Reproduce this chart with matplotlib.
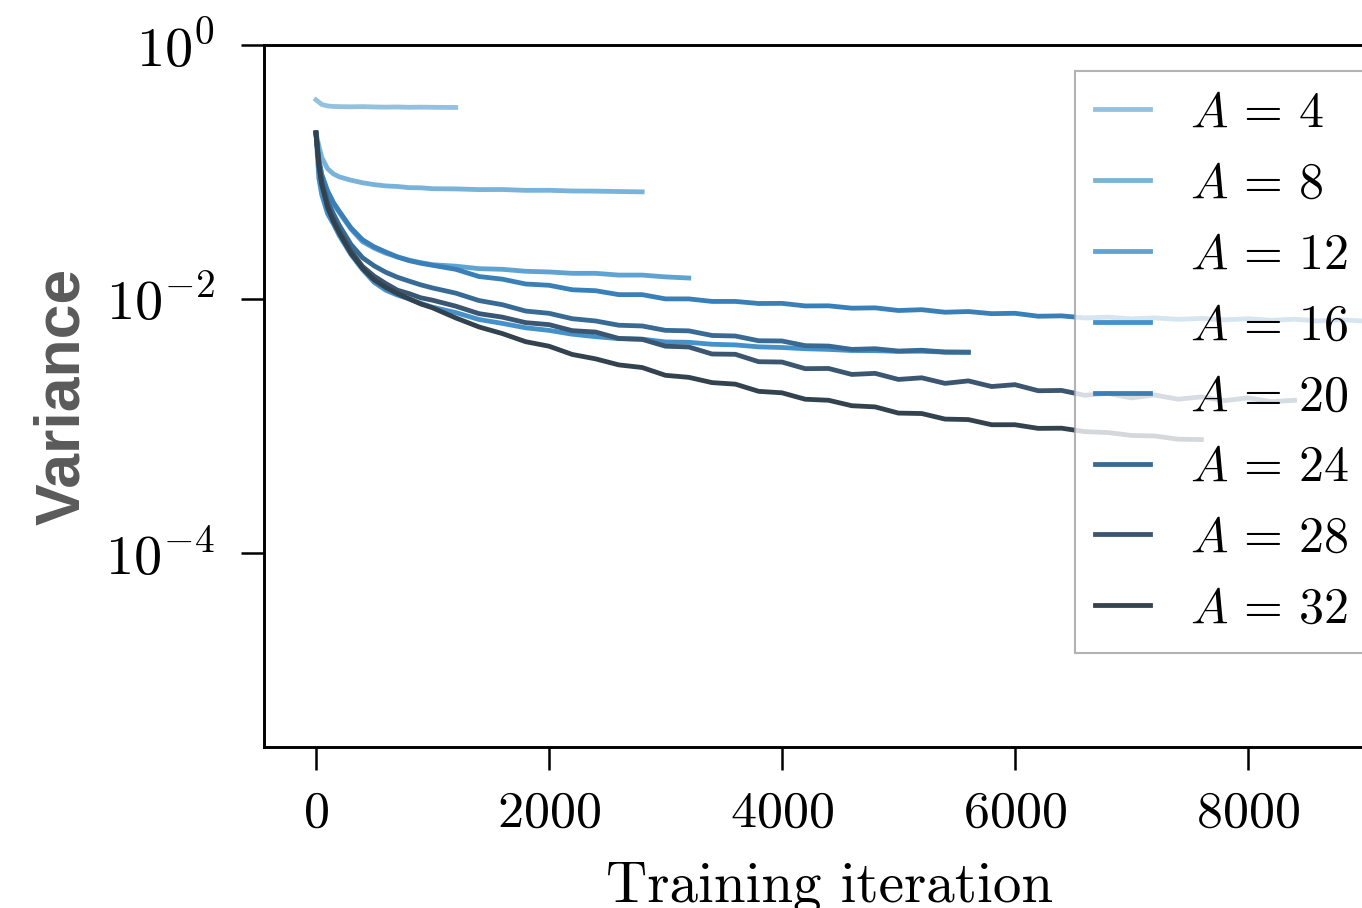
import matplotlib
matplotlib.use("Agg")
import matplotlib.pyplot as plt
from matplotlib.ticker import NullLocator

plt.rcParams.update({
    "font.family": "serif",
    "font.serif": ["cmr10"],
    "mathtext.fontset": "cm",
    "axes.formatter.use_mathtext": True,
    "font.size": 12,
})

# training iterations at which variance was logged
iters = [0, 25, 50, 100, 150, 200, 300, 400, 500, 600, 700, 800, 900, 1000] + list(range(1200, 9001, 200))

a_values = [4, 8, 12, 16, 20, 24, 28, 32]

var_a4 = [0.370, 0.355, 0.340, 0.331, 0.328, 0.327, 0.326, 0.327, 0.325, 0.324,
          0.325, 0.323, 0.324, 0.323, 0.322]

var_a8 = [0.203, 0.160, 0.130, 0.106, 0.0965, 0.0915, 0.0861, 0.0822, 0.0794, 0.0776,
          0.0768, 0.0752, 0.0750, 0.0738, 0.0735, 0.0726, 0.0727, 0.0716, 0.0717, 0.0708,
          0.0706, 0.0701, 0.0697]

var_a12 = [0.203, 0.123, 0.0933, 0.0692, 0.0562, 0.0479, 0.0355, 0.0282, 0.0251, 0.0229,
           0.0214, 0.0202, 0.0193, 0.0186, 0.0181, 0.0173, 0.0171, 0.0165, 0.0163, 0.0159,
           0.0159, 0.0154, 0.0154, 0.0149, 0.0146]

var_a16 = [0.203, 0.0891, 0.0661, 0.0468, 0.0389, 0.0316, 0.0224, 0.0170, 0.0135, 0.0117,
           0.0107, 0.0100, 0.00923, 0.00861, 0.00780, 0.00688, 0.00641, 0.00592, 0.00565, 0.00527,
           0.00504, 0.00486, 0.00482, 0.00458, 0.00455, 0.00439, 0.00434, 0.00419, 0.00414, 0.00405,
           0.00400, 0.00392, 0.00391, 0.00386, 0.00387, 0.00381, 0.00380]

var_a20 = [0.203, 0.126, 0.0955, 0.0708, 0.0575, 0.0490, 0.0363, 0.0292, 0.0257, 0.0234,
           0.0214, 0.0200, 0.0191, 0.0184, 0.0171, 0.0150, 0.0143, 0.0131, 0.0128, 0.0118,
           0.0116, 0.0108, 0.0108, 0.0100, 0.0100, 0.00955, 0.00955, 0.00920, 0.00922, 0.00880,
           0.00882, 0.00845, 0.00850, 0.00810, 0.00822, 0.00785, 0.00795, 0.00765, 0.00770, 0.00730,
           0.00735, 0.00708, 0.00718, 0.00696, 0.00708, 0.00690, 0.00702, 0.00684, 0.00698, 0.00678,
           0.00692, 0.00670, 0.00684, 0.00670]

var_a24 = [0.203, 0.117, 0.0851, 0.0589, 0.0468, 0.0380, 0.0269, 0.0211, 0.0182, 0.0162,
           0.0148, 0.0138, 0.0129, 0.0122, 0.0111, 0.00970, 0.00900, 0.00802, 0.00770, 0.00698,
           0.00670, 0.00620, 0.00612, 0.00565, 0.00560, 0.00515, 0.00510, 0.00468, 0.00466, 0.00428,
           0.00425, 0.00400, 0.00405, 0.00388, 0.00394, 0.00381, 0.00380]

var_a28 = [0.203, 0.115, 0.0813, 0.0550, 0.0427, 0.0347, 0.0240, 0.0180, 0.0151, 0.0132,
           0.0117, 0.0110, 0.0102, 0.00977, 0.00876, 0.00765, 0.00718, 0.00650, 0.00627, 0.00562,
           0.00548, 0.00488, 0.00480, 0.00424, 0.00418, 0.00368, 0.00366, 0.00320, 0.00318, 0.00282,
           0.00283, 0.00254, 0.00259, 0.00232, 0.00239, 0.00216, 0.00226, 0.00204, 0.00211, 0.00189,
           0.00190, 0.00174, 0.00180, 0.00166, 0.00175, 0.00162, 0.00169, 0.00158, 0.00166, 0.00155,
           0.00159]

var_a32 = [0.203, 0.112, 0.0794, 0.0525, 0.0407, 0.0331, 0.0229, 0.0174, 0.0141, 0.0123,
           0.0110, 0.0100, 0.00912, 0.00851, 0.00708, 0.00601, 0.00533, 0.00460, 0.00424, 0.00365,
           0.00337, 0.00302, 0.00288, 0.00250, 0.00241, 0.00219, 0.00213, 0.00187, 0.00182, 0.00162,
           0.00159, 0.00144, 0.00141, 0.00126, 0.00125, 0.00113, 0.00112, 0.00102, 0.00102, 0.000955,
           0.000958, 0.000900, 0.000885, 0.000840, 0.000832, 0.000785, 0.000779]

series = [var_a4, var_a8, var_a12, var_a16, var_a20, var_a24, var_a28, var_a32]
colors = ["#94c1e0", "#7ab3da", "#5fa3d3", "#4592cb", "#3a80b8", "#376b96", "#3a5670", "#33424f"]

fig = plt.figure(figsize=(4.54, 908 / 300), dpi=300)
ax = fig.add_axes([264 / 1362, 1 - 747 / 908, (1396 - 264) / 1362, (747 - 45) / 908])

for a, vals, col in zip(a_values, series, colors):
    ax.plot(iters[:len(vals)], vals, color=col, lw=1.15, label=rf"$A \,=\, {a}$")

ax.set_yscale("log")
ax.set_ylim(10 ** -5.53, 1)
ax.set_yticks([1, 1e-2, 1e-4])
ax.yaxis.set_minor_locator(NullLocator())
ax.set_xlim(-446, 9271)
ax.set_xticks([0, 2000, 4000, 6000, 8000])

ax.tick_params(axis="both", which="major", length=5.5, width=0.6)
ax.tick_params(axis="x", labelsize=12.5, pad=5)
ax.tick_params(axis="y", labelsize=13.5, pad=6.2)
for sp in ax.spines.values():
    sp.set_linewidth(0.7)

ax.set_xlabel("Training iteration", fontsize=13.7, labelpad=6)
ax.set_ylabel("Variance", fontsize=15, fontweight="bold", color="#5a5a5a",
              family="Liberation Sans", labelpad=3.3)

leg = ax.legend(loc="upper left", bbox_to_anchor=(0.7164, 0.963), borderaxespad=0,
                fancybox=False, framealpha=0.8, edgecolor="#a0a0a0",
                handlelength=1.1, handletextpad=0.8, fontsize=12)
leg.get_frame().set_linewidth(0.5)

fig.savefig("out.png", dpi=300)
